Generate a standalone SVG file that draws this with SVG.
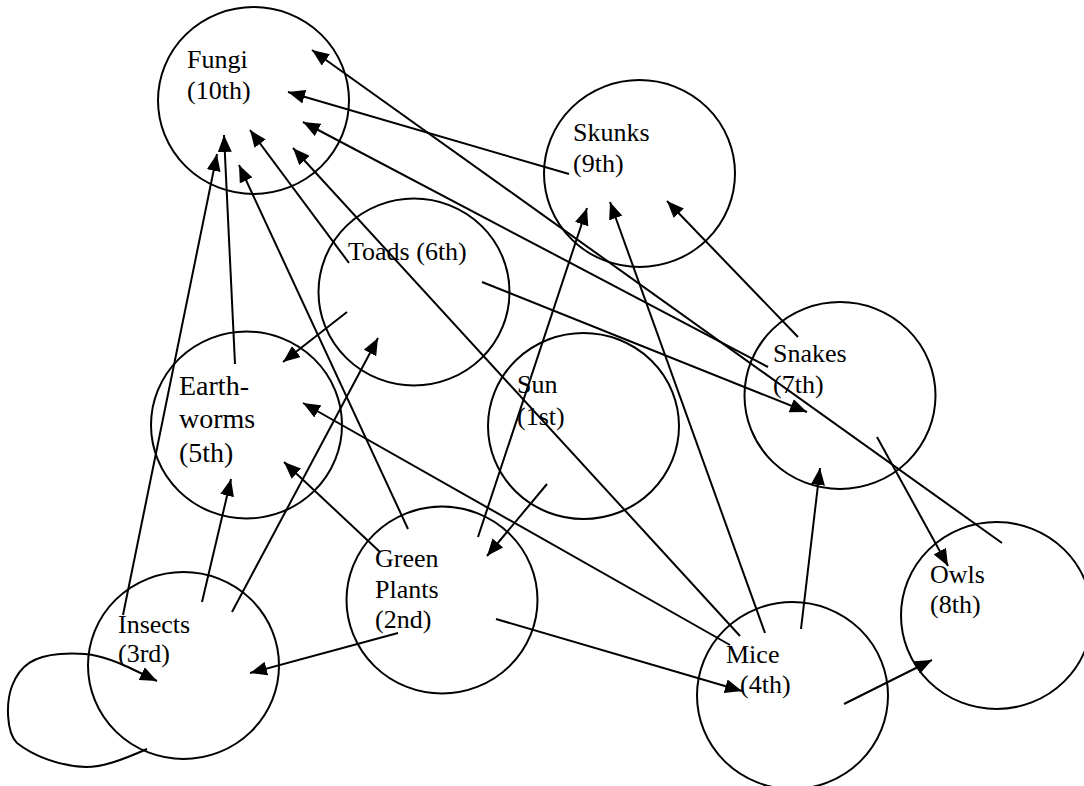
<svg xmlns="http://www.w3.org/2000/svg" width="1084" height="786" viewBox="0 0 1084 786">
<defs>
<marker id="ah" markerUnits="userSpaceOnUse" markerWidth="17" markerHeight="14" refX="17" refY="7" orient="auto">
<path d="M0,0 L17,7 L0,14 z" fill="#000"/>
</marker>
<style>
.node ellipse{fill:none;stroke:#000;stroke-width:2}
.node text{font-size:26px;fill:#000}
.node text.big{font-size:28px}
#connectors path{fill:none;stroke:#000;stroke-width:2;marker-end:url(#ah)}
</style>
</defs>
<rect width="1084" height="786" fill="#fff"/>
<g id="connectors">
<path d="M1002,543 L312,50"/>
<path d="M569,174 L288,92"/>
<path d="M768,367 L303,122"/>
<path d="M740,636 L293,148"/>
<path d="M349,263 L250,130"/>
<path d="M408,529 L239,165"/>
<path d="M235,364 L224,135"/>
<path d="M123,615 L217,154"/>
<path d="M478,537 L587,208"/>
<path d="M765,633 L610,202"/>
<path d="M798,337 L667,201"/>
<path d="M232,612 L378,338"/>
<path d="M347,312 L283,362"/>
<path d="M482,282 L807,412"/>
<path d="M730,645 L303,403"/>
<path d="M380,552 L284,462"/>
<path d="M202,602 L231,479"/>
<path d="M547,484 L487,556"/>
<path d="M398,633 L250,673"/>
<path d="M496,619 L742,691"/>
<path d="M801,629 L820,468"/>
<path d="M877,437 L948,566"/>
<path d="M844,704 L932,660"/>
<path d="M147,749 C120,761 102,767 86,767 C58,766 32,755 17,743 C6,732 6,702 12,686 C20,665 34,656 60,654 C90,652 106,657 128,667 L157,681"/>
</g>
<g font-family="Liberation Serif, Tinos, Times New Roman, Nimbus Roman, DejaVu Serif, serif">
<g id="fungi" class="node"><ellipse cx="253.5" cy="100.5" rx="95.5" ry="93.5"/><text x="187" y="68">Fungi</text><text x="187" y="99">(10th)</text></g>
<g id="skunks" class="node"><ellipse cx="639.5" cy="173.5" rx="95.5" ry="93.5"/><text x="573" y="141">Skunks</text><text x="573" y="172">(9th)</text></g>
<g id="toads" class="node"><ellipse cx="414" cy="292" rx="95.5" ry="93.5"/><text x="348" y="260">Toads (6th)</text></g>
<g id="earthworms" class="node"><ellipse cx="246.5" cy="425" rx="95.5" ry="93.5"/><text class="big" x="179" y="395">Earth-</text><text class="big" x="179" y="428">worms</text><text class="big" x="179" y="462">(5th)</text></g>
<g id="sun" class="node"><ellipse cx="583.5" cy="426" rx="95.5" ry="93"/><text x="517" y="393">Sun</text><text x="517" y="425">(1st)</text></g>
<g id="snakes" class="node"><ellipse cx="840" cy="395.5" rx="95.5" ry="93.5"/><text x="773" y="362">Snakes</text><text x="773" y="393">(7th)</text></g>
<g id="green-plants" class="node"><ellipse cx="442" cy="600" rx="95.5" ry="93.5"/><text x="375" y="567">Green</text><text x="375" y="598">Plants</text><text x="375" y="628">(2nd)</text></g>
<g id="insects" class="node"><ellipse cx="183.5" cy="665.5" rx="95.5" ry="93.5"/><text x="118" y="633">Insects</text><text x="118" y="662">(3rd)</text></g>
<g id="mice" class="node"><ellipse cx="792.5" cy="695.5" rx="95.5" ry="93.5"/><text x="726" y="663">Mice</text><text x="740" y="693">(4th)</text></g>
<g id="owls" class="node"><ellipse cx="996.5" cy="615.5" rx="95.5" ry="93.5"/><text x="930" y="583">Owls</text><text x="930" y="613">(8th)</text></g>
</g>
</svg>
